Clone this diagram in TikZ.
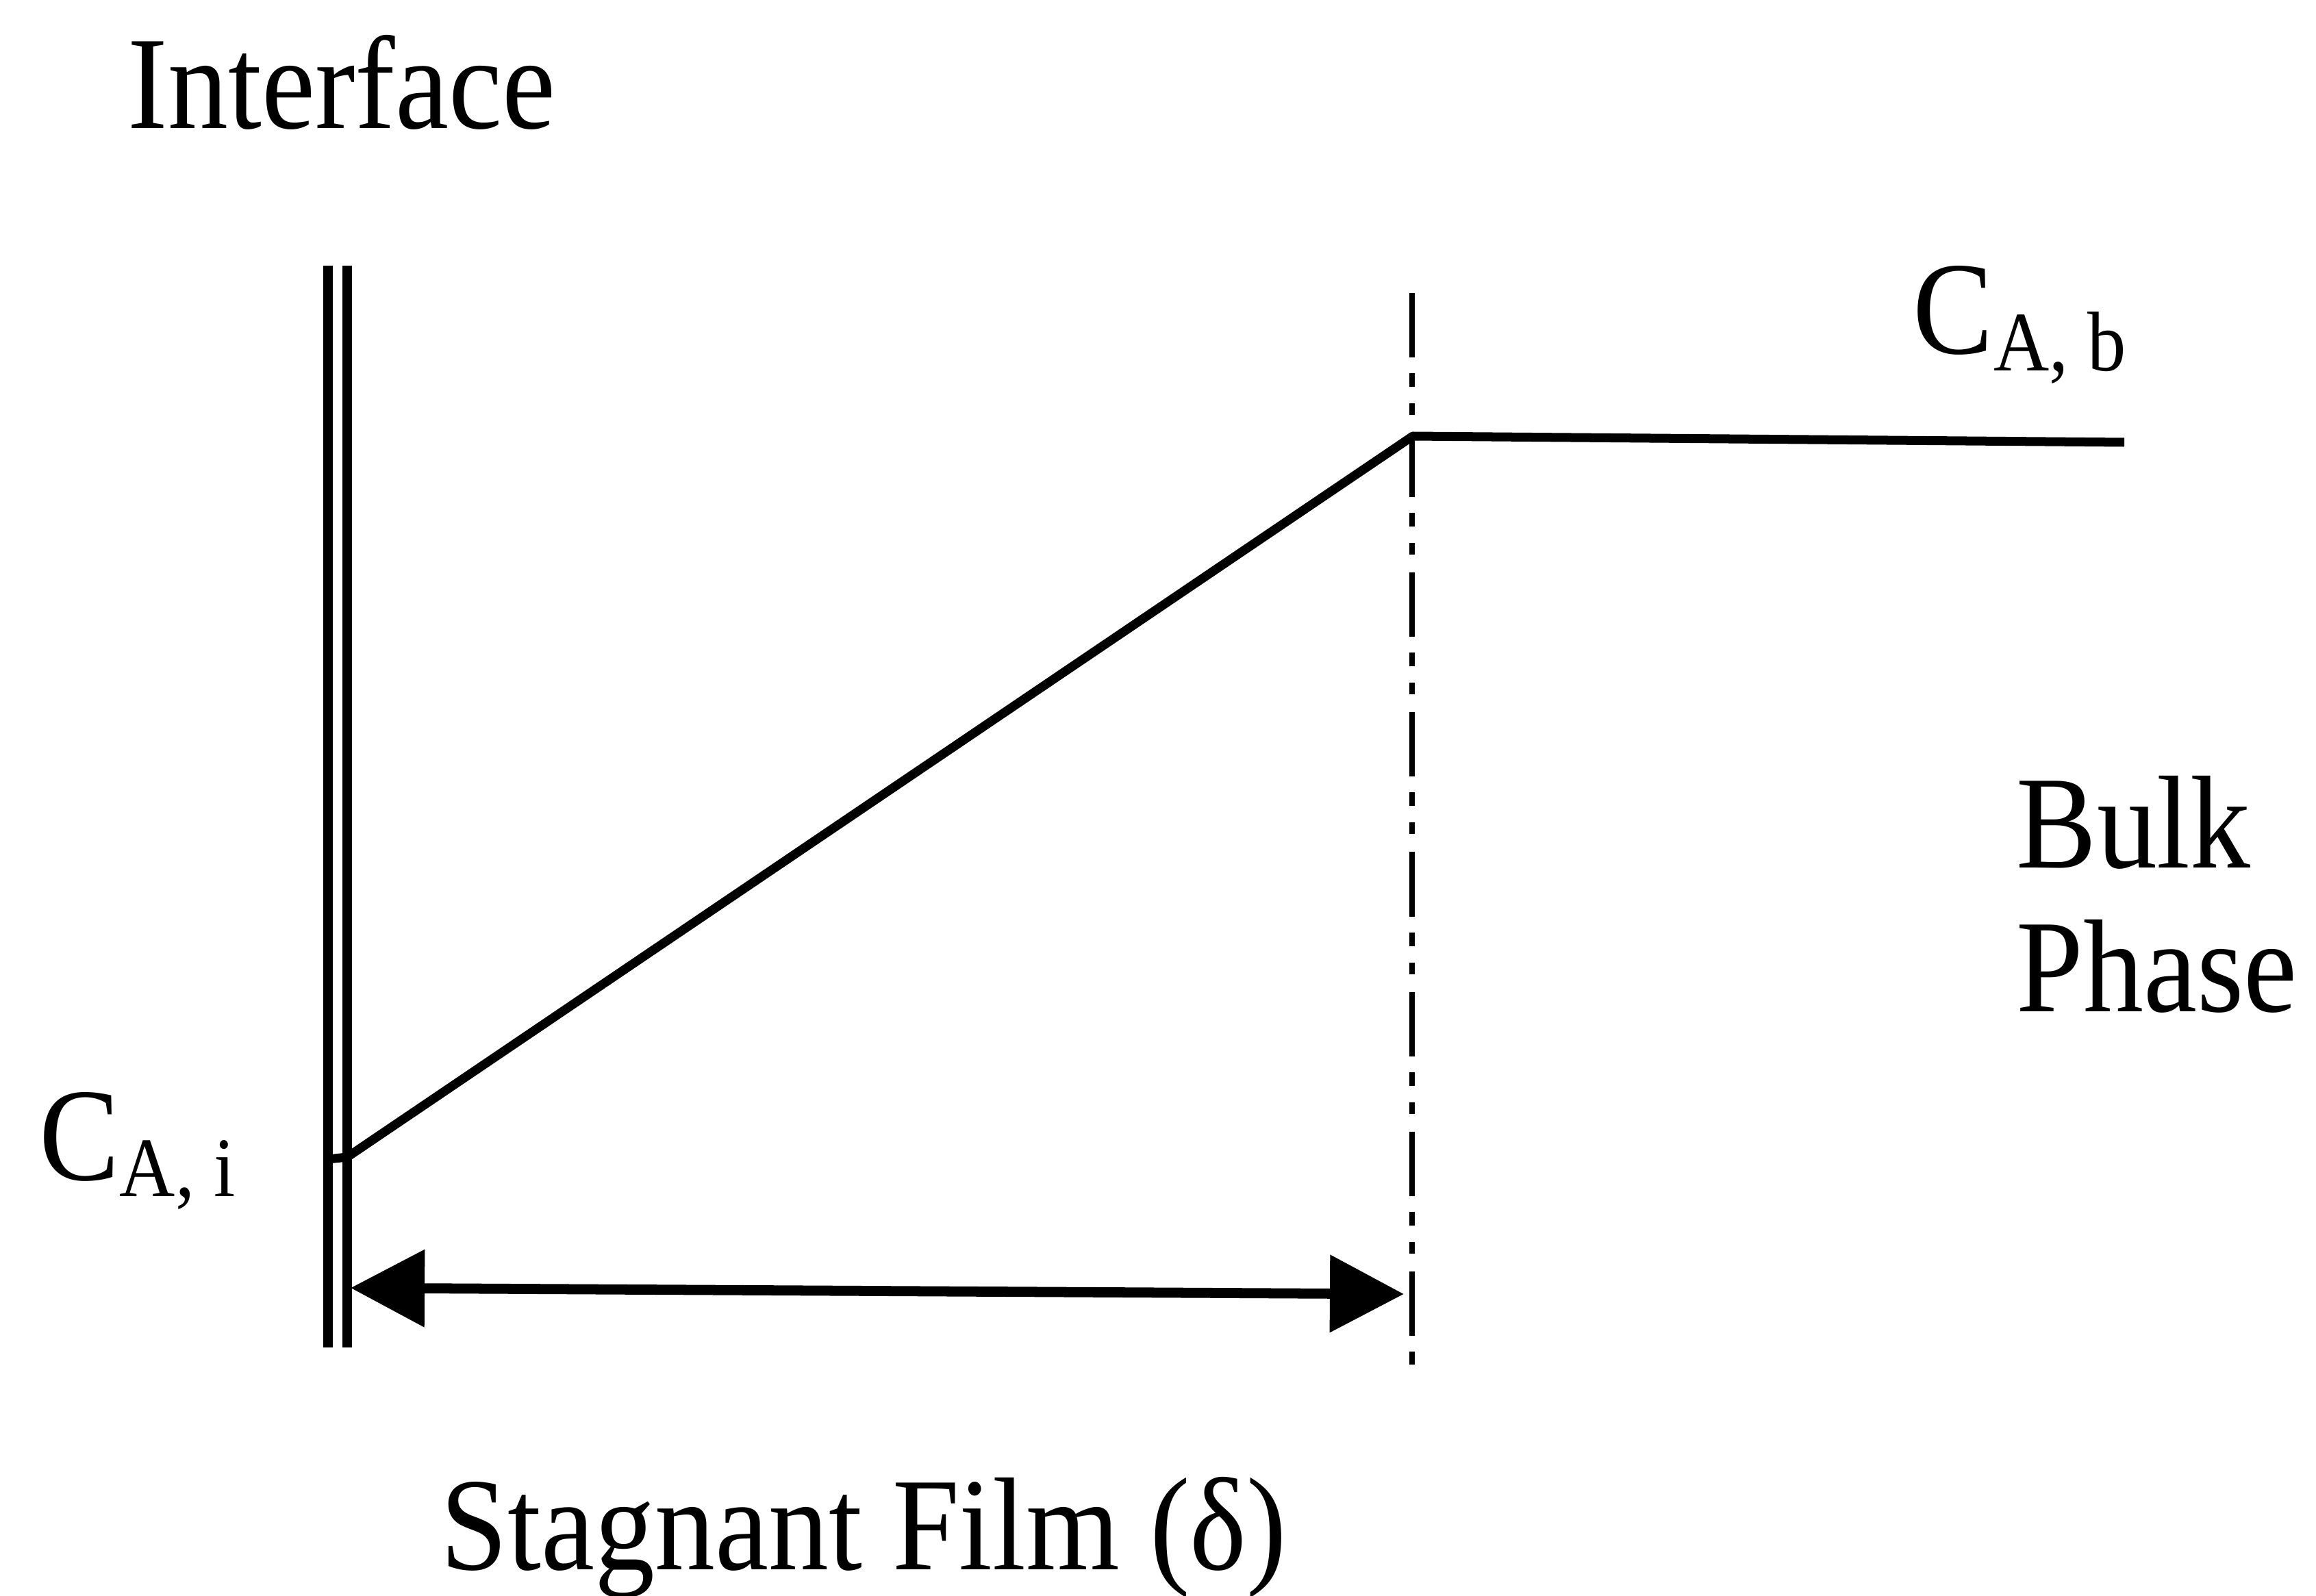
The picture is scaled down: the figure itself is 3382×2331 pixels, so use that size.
\documentclass[tikz,border=0pt]{standalone}
\usepackage{fontspec}
\usepackage{graphicx}
\setmainfont{Liberation Serif}
\usetikzlibrary{arrows.meta}
\newcommand\vstretch[1]{\scalebox{1}[1.1]{#1}}
\begin{document}
\begin{tikzpicture}[x=0.01cm,y=-0.01cm,
  lbl/.style={inner sep=0pt, anchor=base west, font=\fontsize{50}{60}\selectfont},
  wall/.style={line width=4.2pt},
  prof/.style={line width=3.7pt, line join=round},
  filmedge/.style={line width=2.3pt, dash pattern=on 0.94cm off 0.23cm on 0.20cm off 0.24cm on 0.17cm off 0.26cm},
  dimarrow/.style={line width=4.2pt, {Triangle[length=1.08cm,width=1.1cm]}-{Triangle[length=1.08cm,width=1.1cm]}}
]
\useasboundingbox (0,0) rectangle (3382,2331);
% interface double wall
\coordinate (wl-top) at (479,388);
\coordinate (wl-bot) at (479,1968);
\coordinate (wr-top) at (507,388);
\coordinate (wr-bot) at (507,1968);
\draw[wall] (wl-top) -- (wl-bot);
\draw[wall] (wr-top) -- (wr-bot);
% film edge
\coordinate (fe-top) at (2062,428);
\coordinate (fe-bot) at (2062,1993);
\draw[filmedge] (fe-top) -- (fe-bot);
% concentration profile
\coordinate (ci) at (507,1690);
\coordinate (ci-l) at (479,1693);
\coordinate (cb) at (2063,637);
\coordinate (cend) at (3102,646);
\draw[prof] (ci-l) -- (ci) -- (cb) -- (cend);
% film thickness arrow
\coordinate (al) at (512,1881);
\coordinate (ar) at (2050,1890);
\draw[dimarrow] (al) -- (ar);
% labels
\node[lbl] (interface) at (186,188) {\vstretch{Interface}};
\node[lbl] (cailabel) at (57,1723) {\vstretch{C\raisebox{-0.22cm}{\fontsize{32}{36}\selectfont A, i}}};
\node[lbl] (cablabel) at (2793,517) {\vstretch{C\raisebox{-0.22cm}{\fontsize{32}{36}\selectfont A, b}}};
\node[lbl] (bulk) at (2944,1267) {\vstretch{Bulk}};
\node[lbl] (phase) at (2944,1477) {\vstretch{Phase}};
\node[lbl] (film) at (643,2292) {\vstretch{Stagnant Film (δ)}};
\end{tikzpicture}
\end{document}
